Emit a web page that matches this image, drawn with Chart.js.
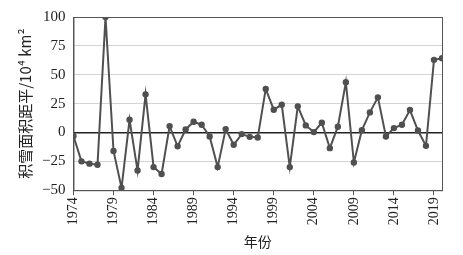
<!DOCTYPE html>
<html>
<head>
<meta charset="utf-8">
<script src="https://cdn.jsdelivr.net/npm/chart.js@4/dist/chart.umd.min.js"></script>
<style>
  html, body { margin: 0; padding: 0; background: #fff; }
  #wrap { width: 463px; height: 255px; }
</style>
</head>
<body>
<div id="wrap"><canvas id="snowChart"></canvas></div>
<script>
// snow cover area anomaly, 1974-2020 (10^4 km^2)
const years = [1974, 1975, 1976, 1977, 1978, 1979, 1980, 1981, 1982, 1983,
  1984, 1985, 1986, 1987, 1988, 1989, 1990, 1991, 1992, 1993,
  1994, 1995, 1996, 1997, 1998, 1999, 2000, 2001, 2002, 2003,
  2004, 2005, 2006, 2007, 2008, 2009, 2010, 2011, 2012, 2013,
  2014, 2015, 2016, 2017, 2018, 2019, 2020]
const anomaly = [-3, -25, -27, -28, 100, -16, -48, 11, -33, 33,
  -30, -36, 5.5, -12, 2.6, 9.3, 6.7, -3.5, -30, 2.9,
  -10.7, -1.4, -3.8, -4.3, 37.7, 19.7, 24, -30, 22.6, 6.1,
  0.3, 8.4, -13.6, 5, 43.5, -26, 2, 17.4, 30.4, -3.5,
  3.8, 6.7, 19.4, 1.7, -11.6, 62.9, 64.3]
const x_tick_years = [1974, 1979, 1984, 1989, 1994, 1999, 2004, 2009, 2014, 2019]
const y_tick_values = [-50, -25, 0, 25, 50, 75, 100]

const serif = "'Liberation Serif', 'DejaVu Serif', serif"

// box round the plot area
const frame_plugin = {
  id: 'frame',
  afterDraw(c) {
    const a = c.chartArea
    const ctx = c.ctx
    ctx.save()
    ctx.strokeStyle = '#555'
    ctx.lineWidth = 1
    ctx.strokeRect(a.left + 0.5, a.top + 0.5, a.right - a.left, a.bottom - a.top)
    ctx.restore()
  }
}

const points = years.map((yr, i) => ({x: yr, y: anomaly[i]}))

const ctx = document.getElementById('snowChart').getContext('2d')

const chart = new Chart(ctx, {
  type: 'line',
  data: {
    datasets: [{
      data: points,
      borderColor: '#505050',
      backgroundColor: '#505050',
      borderWidth: 2,
      pointRadius: 2.2,
      pointHoverRadius: 2.2,
      tension: 0
    }]
  },
  plugins: [frame_plugin],
  options: {
    responsive: true,
    maintainAspectRatio: false,
    animation: false,
    layout: { padding: { top: 16, right: 21, bottom: 5, left: 16 } },
    plugins: {
      legend: { display: false },
      tooltip: { enabled: false }
    },
    scales: {
      x: {
        type: 'linear',
        min: 1974,
        max: 2020,
        afterBuildTicks: axis => {
          axis.ticks = x_tick_years.map(v => ({ value: v }))
        },
        ticks: {
          autoSkip: false,
          minRotation: 90,
          maxRotation: 90,
          padding: 2,
          color: '#222',
          font: { family: serif, size: 14 },
          callback: v => String(v)
        },
        grid: {
          drawOnChartArea: false,
          drawTicks: true,
          tickLength: 5,
          color: '#555'
        },
        border: { display: true, color: '#555' },
        title: {
          display: true,
          text: '年份',
          color: '#222',
          font: { family: "'Noto Sans CJK SC'", size: 14 },
          padding: { top: 6, bottom: 0 }
        }
      },
      y: {
        min: -50,
        max: 100,
        afterBuildTicks: axis => {
          axis.ticks = y_tick_values.map(v => ({ value: v }))
        },
        ticks: {
          padding: 8,
          color: '#222',
          font: { family: serif, size: 15 },
          callback: v => (v < 0 ? '\u2212' + Math.abs(v) : String(v))
        },
        grid: {
          drawTicks: false,
          color: c => {
            if (c.tick.value === 0) return '#222'
            if (c.tick.value === 100 || c.tick.value === -50) return 'rgba(0,0,0,0)'
            return '#d4d4d4'
          },
          lineWidth: c => (c.tick.value === 0 ? 1.5 : 1)
        },
        border: { display: true, color: '#555' },
        title: {
          display: true,
          text: '积雪面积距平/10⁴ km²',
          color: '#222',
          font: { family: "'Noto Sans CJK SC'", size: 15 },
          padding: { top: 0, bottom: 0 }
        }
      }
    }
  }
})
</script>
</body>
</html>
